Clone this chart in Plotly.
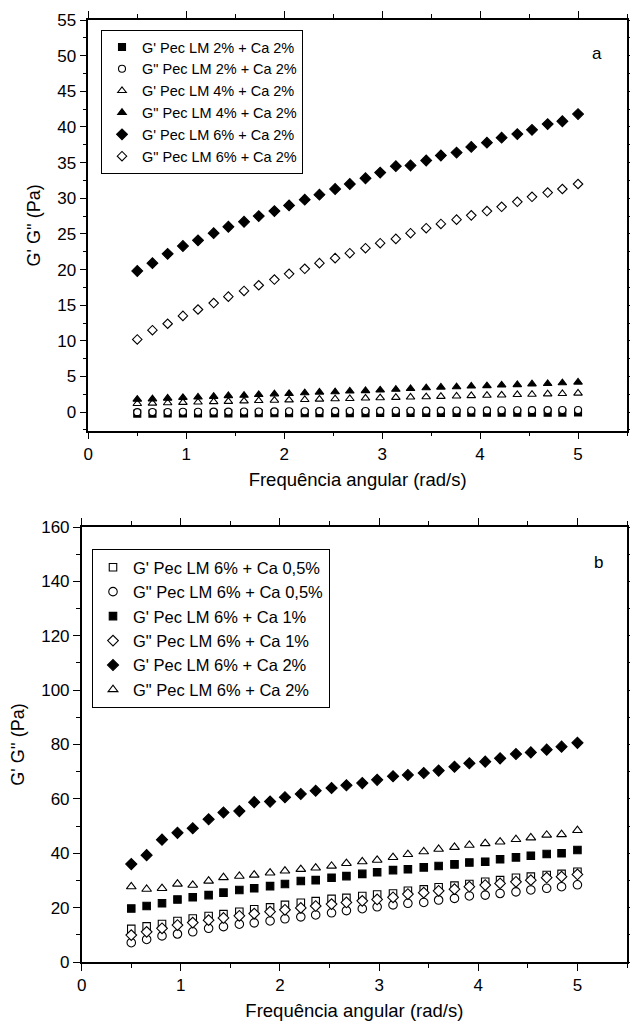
import plotly.graph_objects as go

# ---------------- data ----------------
freq = [0.5, 0.655, 0.81, 0.966, 1.12, 1.28, 1.43, 1.59, 1.74, 1.9,
        2.05, 2.21, 2.36, 2.52, 2.67, 2.83, 2.98, 3.14, 3.29, 3.45,
        3.6, 3.76, 3.91, 4.07, 4.22, 4.38, 4.53, 4.69, 4.84, 5.0]

# Panel a
a_names = ["G' Pec LM 2% + Ca 2%", 'G" Pec LM 2% + Ca 2%', "G' Pec LM 4% + Ca 2%",
           'G" Pec LM 4% + Ca 2%', "G' Pec LM 6% + Ca 2%", 'G" Pec LM 6% + Ca 2%']
a_g1_2 = [-0.2, -0.2, -0.19, -0.19, -0.18, -0.18, -0.17, -0.17, -0.16, -0.16,
          -0.15, -0.15, -0.14, -0.14, -0.13, -0.13, -0.12, -0.12, -0.11, -0.11,
          -0.1, -0.1, -0.09, -0.09, -0.08, -0.08, -0.07, -0.07, -0.06, -0.05]
a_g2_2 = [0.0, 0.02, 0.03, 0.05, 0.06, 0.07, 0.08, 0.09, 0.1, 0.11,
          0.12, 0.13, 0.14, 0.15, 0.16, 0.17, 0.18, 0.19, 0.2, 0.21,
          0.22, 0.23, 0.24, 0.25, 0.26, 0.27, 0.28, 0.29, 0.3, 0.31]
a_g1_4 = [1.2, 1.25, 1.3, 1.36, 1.41, 1.46, 1.5, 1.56, 1.61, 1.66,
          1.7, 1.76, 1.81, 1.86, 1.9, 1.96, 2.01, 2.06, 2.1, 2.15,
          2.2, 2.25, 2.3, 2.35, 2.4, 2.45, 2.5, 2.55, 2.6, 2.66]
a_g2_4 = [1.8, 1.85, 1.95, 2.05, 2.1, 2.2, 2.3, 2.35, 2.45, 2.55,
          2.6, 2.7, 2.8, 2.85, 2.95, 3.0, 3.1, 3.2, 3.3, 3.4,
          3.5, 3.55, 3.65, 3.7, 3.8, 3.85, 3.95, 4.0, 4.1, 4.2]
a_g1_6 = [19.8, 20.9, 22.2, 23.3, 24.1, 25.1, 26.0, 26.7, 27.5, 28.2,
          29.0, 29.8, 30.5, 31.3, 32.0, 32.8, 33.6, 34.5, 34.6, 35.3,
          36.0, 36.4, 37.2, 37.8, 38.5, 39.0, 39.6, 40.4, 40.8, 41.8]
a_g2_6 = [10.2, 11.5, 12.4, 13.5, 14.4, 15.3, 16.2, 17.0, 17.8, 18.6,
          19.4, 20.1, 20.9, 21.6, 22.3, 23.0, 23.7, 24.3, 25.1, 25.8,
          26.4, 27.0, 27.6, 28.2, 28.8, 29.5, 30.2, 30.8, 31.3, 32.0]

# Panel b
b_names = ["G' Pec LM 6% + Ca 0,5%", 'G" Pec LM 6% + Ca 0,5%', "G' Pec LM 6% + Ca 1%",
           'G" Pec LM 6% + Ca 1%', "G' Pec LM 6% + Ca 2%", 'G" Pec LM 6% + Ca 2%']
b_g1_05 = [12.2, 13.1, 14.0, 15.1, 16.0, 16.9, 17.6, 18.5, 19.4, 20.1,
           21.0, 21.8, 22.4, 23.2, 23.6, 24.3, 24.8, 25.2, 26.2, 26.7,
           27.5, 28.1, 28.7, 29.5, 30.1, 31.0, 31.4, 32.0, 32.4, 33.2]
b_g2_05 = [7.1, 8.3, 9.6, 10.3, 11.1, 12.4, 13.0, 13.9, 14.4, 15.1,
           15.9, 16.6, 17.3, 18.1, 18.9, 19.6, 20.3, 21.0, 21.6, 21.9,
           22.8, 23.4, 24.3, 24.6, 25.2, 25.8, 26.5, 27.1, 27.7, 28.4]
b_g1_1 = [19.7, 20.6, 21.6, 23.0, 23.8, 24.6, 25.5, 26.5, 27.1, 27.9,
          28.7, 29.8, 30.1, 31.0, 31.6, 32.4, 33.0, 33.8, 34.1, 34.8,
          35.3, 35.9, 36.6, 36.9, 37.8, 38.5, 39.1, 39.7, 40.0, 41.2]
b_g2_1 = [9.9, 11.1, 12.4, 13.6, 14.5, 15.4, 16.2, 17.0, 17.8, 18.5,
          19.2, 19.9, 20.6, 21.3, 21.9, 22.5, 23.0, 23.8, 25.0, 25.5,
          26.2, 26.8, 27.7, 28.3, 28.9, 29.5, 30.1, 31.0, 31.4, 32.2]
b_g1_2 = [36.0, 39.3, 45.0, 47.5, 49.2, 52.5, 55.0, 55.5, 58.8, 59.0,
          60.6, 61.8, 63.0, 64.0, 65.0, 65.8, 67.0, 68.3, 68.8, 69.5,
          70.4, 71.8, 73.1, 73.7, 74.9, 76.5, 77.1, 78.1, 79.2, 80.6]
b_g2_2 = [27.7, 26.8, 27.1, 28.7, 28.3, 29.8, 31.1, 31.6, 32.0, 32.8,
          33.5, 34.1, 34.6, 35.3, 36.3, 36.9, 37.5, 38.5, 39.6, 40.6,
          41.5, 42.2, 43.0, 43.6, 44.2, 45.1, 45.7, 46.7, 46.9, 48.4]

FONT = "Liberation Sans, Arial, sans-serif"

fig = go.Figure()

def add(x, y, name, symbol, filled, size, xa, ya, legend):
    fig.add_trace(go.Scatter(
        x=x, y=y, name=name, mode="markers", xaxis=xa, yaxis=ya, legend=legend,
        marker=dict(symbol=symbol, size=size,
                    color="black" if filled else "white",
                    line=dict(color="black", width=1.1)),
    ))

a_series = [(a_g1_2, "square", True, 7), (a_g2_2, "circle", False, 7),
            (a_g1_4, "triangle-up", False, 7.5), (a_g2_4, "triangle-up", True, 7.5),
            (a_g1_6, "diamond", True, 8.3), (a_g2_6, "diamond", False, 7.3)]
for (vals, sym, fill, sz), nm in zip(a_series, a_names):
    add(freq, vals, nm, sym, fill, sz, "x", "y", "legend")

b_series = [(b_g1_05, "square", False, 7.5), (b_g2_05, "circle", False, 8.5),
            (b_g1_1, "square", True, 7.5), (b_g2_1, "diamond", False, 8.2),
            (b_g1_2, "diamond", True, 8.5), (b_g2_2, "triangle-up", False, 8.5)]
for (vals, sym, fill, sz), nm in zip(b_series, b_names):
    add(freq, vals, nm, sym, fill, sz, "x2", "y2", "legend2")

W, H = 630, 1026
axis_common = dict(showline=True, linecolor="black", linewidth=1.5, mirror="allticks",
                   ticks="outside", ticklen=7, tickwidth=1.3, tickcolor="black",
                   showgrid=False, zeroline=False,
                   tickfont=dict(family=FONT, size=17, color="black"))

xtitle = dict(text="Frequência angular (rad/s)", font=dict(family=FONT, size=18.5, color="black"), standoff=10)
ytitle = dict(text="G' G'' (Pa)", font=dict(family=FONT, size=18, color="black"), standoff=12)

fig.update_layout(
    width=W, height=H, margin=dict(l=0, r=0, t=0, b=0, autoexpand=False),
    paper_bgcolor="white", plot_bgcolor="white",
    font=dict(family=FONT, color="black"),
    xaxis=dict(domain=[88.3 / W, 627 / W], anchor="y", range=[0, 5.5], dtick=1, tick0=0,
               minor=dict(ticks="outside", ticklen=4, dtick=0.5, tickcolor="black", tickwidth=1.3),
               title=xtitle, **axis_common),
    yaxis=dict(domain=[1 - 430.7 / H, 1 - 20 / H], anchor="x", range=[-2.6, 55], dtick=5, tick0=0,
               minor=dict(ticks="outside", ticklen=4, dtick=2.5, tickcolor="black", tickwidth=1.3),
               title=ytitle, **axis_common),
    xaxis2=dict(domain=[81.7 / W, 627 / W], anchor="y2", range=[0, 5.5], dtick=1, tick0=0,
                minor=dict(ticks="outside", ticklen=4, dtick=0.5, tickcolor="black", tickwidth=1.3),
                title=xtitle, **axis_common),
    yaxis2=dict(domain=[1 - 962 / H, 1 - 527 / H], anchor="x2", range=[0, 160], dtick=20, tick0=0,
                minor=dict(ticks="outside", ticklen=4, dtick=10, tickcolor="black", tickwidth=1.3),
                title=ytitle, **axis_common),
    legend=dict(x=101 / W, y=1 - 30 / H, xanchor="left", yanchor="top",
                bordercolor="black", borderwidth=1, bgcolor="white",
                font=dict(family=FONT, size=14.5, color="black")),
    legend2=dict(x=92 / W, y=1 - 549 / H, xanchor="left", yanchor="top",
                 bordercolor="black", borderwidth=1, bgcolor="white",
                 font=dict(family=FONT, size=16.5, color="black")),
    annotations=[
        dict(text="a", x=604 / W, y=1 - 42 / H, xref="paper", yref="paper", showarrow=False,
             font=dict(family=FONT, size=17, color="black")),
        dict(text="b", x=605 / W, y=1 - 562 / H, xref="paper", yref="paper", showarrow=False,
             font=dict(family=FONT, size=17, color="black")),
    ],
)

fig.write_html("out.html")
